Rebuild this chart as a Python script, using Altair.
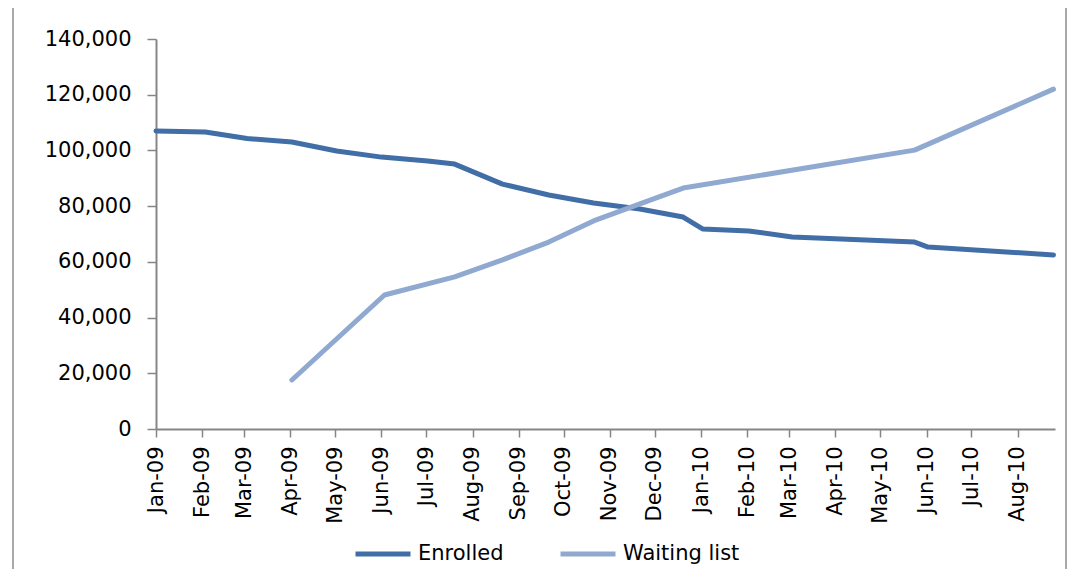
import altair as alt
import pandas as pd

# ---- data ----
enrolled_dates = ["2009-01-01", "2009-02-03", "2009-03-03", "2009-04-02", "2009-05-02",
                  "2009-06-01", "2009-07-02", "2009-07-20", "2009-08-21", "2009-09-21",
                  "2009-10-21", "2009-11-21", "2009-12-20", "2010-01-02", "2010-02-02",
                  "2010-03-03", "2010-05-24", "2010-06-02", "2010-08-25"]
enrolled_values = [107000, 106600, 104300, 103000, 99800,
                   97600, 96200, 95100, 87900, 84000,
                   81100, 79000, 76100, 71800, 71100,
                   68900, 67100, 65300, 62500]

waiting_dates = ["2009-04-02", "2009-06-03", "2009-07-20", "2009-08-21", "2009-09-21",
                 "2009-10-21", "2009-11-21", "2009-12-20", "2010-05-24", "2010-08-25"]
waiting_values = [17600, 48100, 54600, 60700, 67100,
                  74700, 80800, 86500, 100100, 122000]

series_names = ["Enrolled", "Waiting list"]
series_colors = ["#416EA6", "#8FA9D0"]
y_ticks = [0, 20000, 40000, 60000, 80000, 100000, 120000, 140000]
tick_months = [(2009, m) for m in range(1, 13)] + [(2010, m) for m in range(1, 9)]

rows = [{"date": d, "value": v, "series": series_names[0]} for d, v in zip(enrolled_dates, enrolled_values)]
rows += [{"date": d, "value": v, "series": series_names[1]} for d, v in zip(waiting_dates, waiting_values)]
df = pd.DataFrame(rows)

FONT = "DejaVu Sans"

x_ticks = [alt.DateTime(year=y, month=m, date=1, utc=True) for y, m in tick_months]

lines = alt.Chart(df).mark_line(strokeWidth=5, strokeCap="round", strokeJoin="round").encode(
    x=alt.X("date:T",
            scale=alt.Scale(type="utc", nice=False,
                            domain=[alt.DateTime(year=2009, month=1, date=1, utc=True),
                                    alt.DateTime(year=2010, month=8, date=26, utc=True)]),
            axis=alt.Axis(title=None, values=x_ticks,
                          labelExpr="utcFormat(datum.value, '%b-%y')",
                          labelAngle=-90, labelFont=FONT, labelFontSize=21, labelColor="black",
                          labelPadding=9, tickSize=8, grid=False, labelOverlap=False,
                          domainColor="#868686", tickColor="#868686",
                          domainWidth=2, tickWidth=1.5)),
    y=alt.Y("value:Q",
            scale=alt.Scale(domain=[0, 140000], nice=False),
            axis=alt.Axis(title=None, values=y_ticks,
                          labelExpr="format(datum.value, ',')", labelFont=FONT,
                          labelFontSize=21, labelColor="black", labelPadding=16, tickSize=9,
                          grid=False, domainColor="#868686", tickColor="#868686",
                          domainWidth=2, tickWidth=1.5)),
    color=alt.Color("series:N",
                    scale=alt.Scale(domain=series_names, range=series_colors),
                    legend=alt.Legend(orient="none", legendX=197, legendY=485,
                                      direction="horizontal", title=None,
                                      symbolType="stroke", symbolSize=3025,
                                      symbolStrokeWidth=5, labelFont=FONT,
                                      labelFontSize=21, labelColor="black",
                                      labelOffset=5, columnPadding=46, padding=0)),
    detail="series:N",
)

border_left = alt.Chart(alt.Data(values=[{}])).mark_rule(color="#8C8C8C", strokeWidth=1.5).encode(
    x=alt.value(-143), y=alt.value(-40), y2=alt.value(545))
border_right = alt.Chart(alt.Data(values=[{}])).mark_rule(color="#8C8C8C", strokeWidth=1.5).encode(
    x=alt.value(910), y=alt.value(-40), y2=alt.value(545))

chart = alt.layer(lines, border_left, border_right).properties(
    width=899, height=390,
    autosize=alt.AutoSizeParams(type="none"),
    padding={"left": 148, "top": 31, "right": 14, "bottom": 140},
    background="white",
).configure_view(stroke=None)

chart.save("out.html", embed_options={"renderer": "svg", "actions": False})
